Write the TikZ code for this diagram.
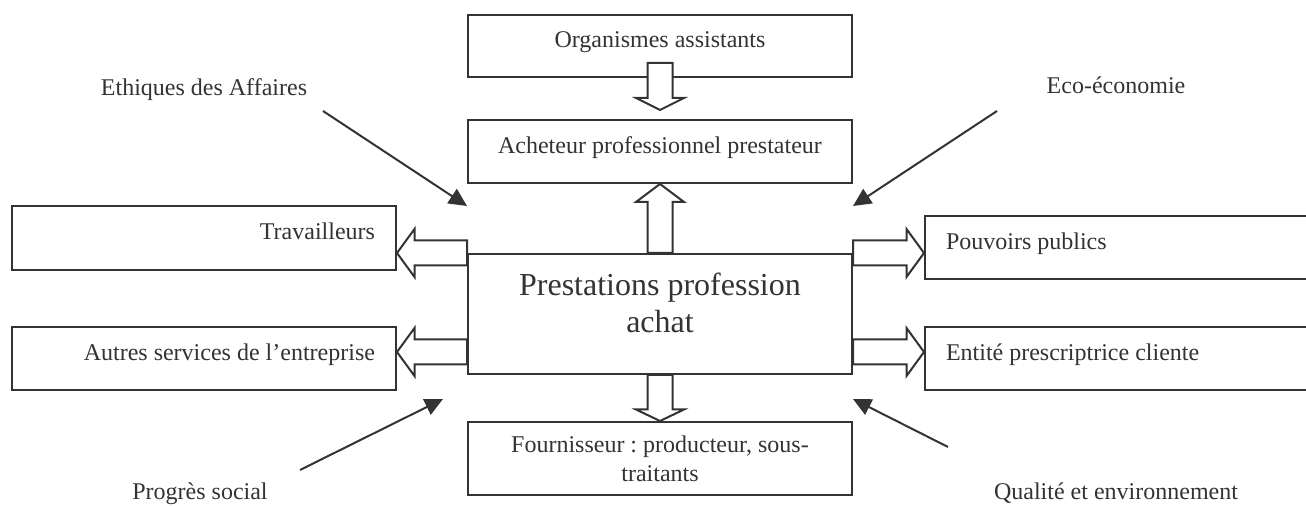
\documentclass[tikz,border=0pt]{standalone}
\usepackage{fontspec}
\setmainfont{Liberation Serif}
\usetikzlibrary{calc,arrows.meta}
\definecolor{ink}{HTML}{333333}
\frenchspacing
\newcommand\hollowarrow[3]{%
  \path (#1) coordinate (ha-a);
  \path (#2) coordinate (ha-b);
  \path ($(ha-b)!#3!(ha-a)$) coordinate (ha-c);
  \filldraw[hollow] ($(ha-a)!6.25pt!90:(ha-b)$) -- ($(ha-c)!6.25pt!90:(ha-b)$)
    -- ($(ha-c)!12pt!90:(ha-b)$) -- (ha-b) -- ($(ha-c)!12pt!-90:(ha-b)$)
    -- ($(ha-c)!6.25pt!-90:(ha-b)$) -- ($(ha-a)!6.25pt!-90:(ha-b)$) -- cycle;
}
\tikzset{
  every node/.style={text=ink},
  box/.style={draw=ink, line width=1pt, fill=white, inner ysep=0pt,
    font=\fontsize{12}{14.5}\selectfont\frenchspacing},
  oneline/.style={text height=8pt, text depth=6pt},
  midbox/.style={box, minimum width=192pt, text width=171pt, inner xsep=10.5pt, align=flush center},
  leftbox/.style={box, oneline, minimum width=192pt, minimum height=32pt, text width=171pt, inner xsep=10.5pt, align=flush right},
  rightbox/.style={box, oneline, anchor=west, minimum width=200pt, minimum height=31.5pt, text width=179pt, inner xsep=10.5pt, align=flush left},
  lbl/.style={anchor=base, inner sep=0pt, font=\fontsize{12}{14.5}\selectfont},
  hollow/.style={draw=ink, fill=white, line width=1pt, line join=miter},
  influence/.style={draw=ink, line width=1pt, -{Triangle[length=9pt,width=8.5pt]}}
}
\begin{document}
\begin{tikzpicture}[x=0.5pt,y=-0.5pt]
\useasboundingbox (0,0) rectangle (1306,506);
% central column
\node[midbox, oneline, minimum height=31pt] (organismes) at (660,46) {Organismes assistants};
\node[midbox, oneline, minimum height=31.5pt] (acheteur) at (660,151.5) {Acheteur professionnel prestateur};
\node[midbox, minimum height=60pt, font=\fontsize{16}{18.5}\selectfont] (central) at (660,314)
  {Prestations profession\\achat\rule[-11.5pt]{0pt}{11.5pt}};
\node[midbox, minimum height=36.5pt] (fournisseur) at (660,458.5) {Fournisseur : producteur, sous-\\traitants};
% side boxes
\node[leftbox] (travailleurs) at (204,238) {Travailleurs};
\node[leftbox, minimum height=31.5pt] (autres) at (204,358.5) {Autres services de l’entreprise};
\node[rightbox] (pouvoirs) at (924,247.5) {Pouvoirs publics};
\node[rightbox] (entite) at (924,358.5) {Entité prescriptrice cliente};
% hollow arrows
\coordinate (lt) at (central.north west);
\coordinate (lb) at ($(central.south west)+(0,-23)$);
\coordinate (rt) at (central.north east);
\coordinate (rb) at ($(central.south east)+(0,-23)$);
\coordinate (od) at ($(organismes.south)+(0,-15)$);
\coordinate (at) at ($(acheteur.north)+(0,-9)$);
\hollowarrow{lt}{travailleurs.east |- lt}{8.75pt}
\hollowarrow{lb}{autres.east |- lb}{8.75pt}
\hollowarrow{rt}{pouvoirs.west |- rt}{8.75pt}
\hollowarrow{rb}{entite.west |- rb}{8.75pt}
\hollowarrow{central.north}{acheteur.south}{9pt}
\hollowarrow{od}{at}{6pt}
\hollowarrow{central.south}{fournisseur.north}{5.75pt}
% influence labels
\node[lbl] (ethiques) at (204,96) {Ethiques des Affaires};
\node[lbl] (eco) at (1116,94) {Eco-économie};
\node[lbl] (progres) at (200,500) {Progrès social};
\node[lbl] (qualite) at (1116,500) {Qualité et environnement};
\coordinate (e1s) at (323,111); \coordinate (e1t) at (467,206);
\coordinate (e2s) at (997,111); \coordinate (e2t) at (853,206);
\coordinate (e3s) at (300,470); \coordinate (e3t) at (443,399);
\coordinate (e4s) at (948,447); \coordinate (e4t) at (853,399);
\draw[influence] (e1s) -- (e1t);
\draw[influence] (e2s) -- (e2t);
\draw[influence] (e3s) -- (e3t);
\draw[influence] (e4s) -- (e4t);
\end{tikzpicture}
\end{document}
